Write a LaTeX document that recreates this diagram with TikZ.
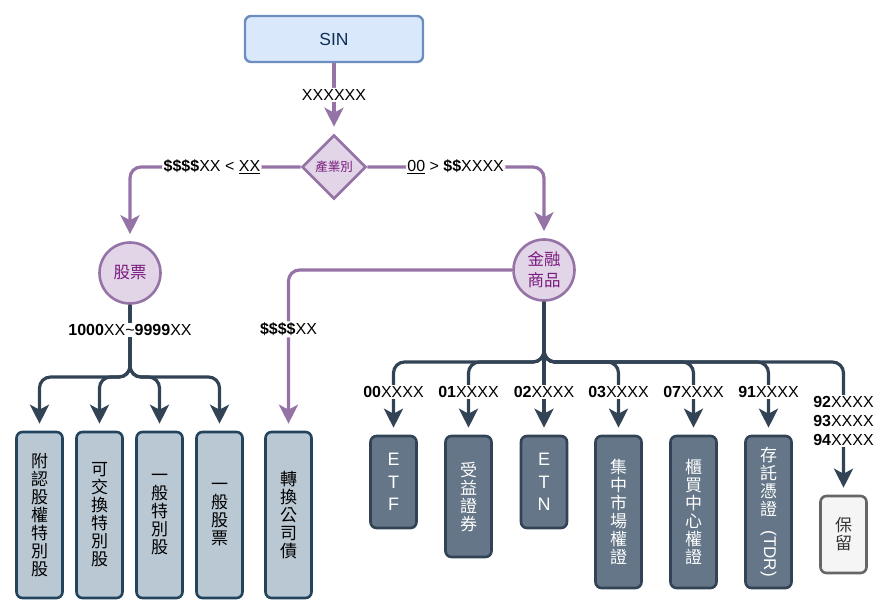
\documentclass[tikz,border=0pt]{standalone}
\usepackage{fontspec}
\setmainfont{Liberation Sans}
\newfontfamily\cjk{Noto Sans CJK TC}
\usetikzlibrary{shapes.geometric,arrows.meta}
\definecolor{sinfill}{HTML}{DAE8FC}
\definecolor{sindraw}{HTML}{6C8EBF}
\definecolor{sintext}{HTML}{0F2F57}
\definecolor{pfill}{HTML}{E1D5E7}
\definecolor{pdraw}{HTML}{9673A6}
\definecolor{ptext}{HTML}{7A1A7E}
\definecolor{afill}{HTML}{BAC8D3}
\definecolor{adraw}{HTML}{23445D}
\definecolor{bfill}{HTML}{647687}
\definecolor{bdraw}{HTML}{314354}
\definecolor{gfill}{HTML}{F5F5F5}
\definecolor{gdraw}{HTML}{666666}
\definecolor{gtext}{HTML}{333333}
\definecolor{tcol}{HTML}{314354}
\begin{document}
\begin{tikzpicture}[x=1pt,y=-1pt,
  sinbox/.style={draw=sindraw, fill=sinfill, line width=2.4pt, rounded corners=6pt, minimum width=178pt, minimum height=46pt, inner sep=0pt, text=sintext, font=\fontsize{17.5}{20}\selectfont},
  dia/.style={diamond, draw=pdraw, fill=pfill, line width=2.6pt, minimum width=64pt, minimum height=64pt, inner sep=0pt, text=ptext, font=\cjk\fontsize{12.5}{14}\selectfont},
  circ/.style={circle, draw=pdraw, fill=pfill, line width=2.6pt, minimum size=61pt, inner sep=0pt, align=center, text=ptext, font=\cjk\fontsize{16.5}{21}\selectfont},
  boxa/.style={draw=adraw, fill=afill, line width=2.6pt, rounded corners=6pt, minimum width=46pt, inner sep=0pt, align=center, text=black, font=\cjk\fontsize{17}{18}\selectfont},
  boxb/.style={draw=bdraw, fill=bfill, line width=2.6pt, rounded corners=6pt, minimum width=46pt, inner sep=0pt, align=center, text=white, font=\cjk\fontsize{17}{18}\selectfont},
  boxg/.style={draw=gdraw, fill=gfill, line width=2.6pt, rounded corners=6pt, minimum width=46pt, inner sep=0pt, align=center, text=gtext, font=\cjk\fontsize{17}{18}\selectfont},
  lbl/.style={fill=white, inner sep=1.5pt, align=center, text=black, font=\fontsize{16}{19}\selectfont},
  pline/.style={draw=pdraw, line width=3.2pt, rounded corners=11pt, shorten >=7pt, -{Stealth[length=19pt,width=19pt,inset=5pt]}},
  tline/.style={draw=tcol, line width=3.2pt, rounded corners=11pt, shorten >=7pt, -{Stealth[length=19pt,width=19pt,inset=5pt]}},
]
\useasboundingbox (0,0) rectangle (891,615);

% top
\node[sinbox] (sin) at (334,39) {SIN};
\node[dia] (ind) at (334,167) {產業別};
\node[circ] (stk) at (130,273) {股票};
\node[circ] (fin) at (544,270) {金融\\商品};

% left boxes
\node[boxa, minimum height=166pt] (a1) at (39.5,515) {附\\認\\股\\權\\特\\別\\股};
\node[boxa, minimum height=166pt] (a2) at (99.5,515) {可\\交\\換\\特\\別\\股};
\node[boxa, minimum height=166pt] (a3) at (159.5,515) {一\\般\\特\\別\\股};
\node[boxa, minimum height=166pt] (a4) at (219.5,515) {一\\般\\股\\票};
\node[boxa, minimum height=166pt] (a5) at (288.5,515) {轉\\換\\公\\司\\債};

% right boxes
\node[boxb, minimum height=92pt, font=\fontsize{18}{22.5}\selectfont] (b1) at (393.5,482) {E\\T\\F};
\node[boxb, minimum height=121pt] (b2) at (468.5,496.5) {受\\益\\證\\券};
\node[boxb, minimum height=92pt, font=\fontsize{18}{22.5}\selectfont] (b3) at (544,482) {E\\T\\N};
\node[boxb, minimum height=152pt] (b4) at (618.5,512) {集\\中\\市\\場\\權\\證};
\node[boxb, minimum height=152pt] (b5) at (693.5,512) {櫃\\買\\中\\心\\權\\證};
\node[boxb, minimum height=152pt] (b6) at (768.5,512) {存\\託\\憑\\證\\[-3pt]\rotatebox{-90}{\fontspec{Liberation Sans}\fontsize{17}{18}\selectfont(TDR)}};
\node[boxg, minimum height=77pt] (b7) at (843.5,534.5) {保\\留};

% purple connectors
\draw[pline] (sin.south) -- node[lbl, pos=0.45]{XXXXXX} (ind.north);
\draw[pline] (ind.west) -- node[lbl, pos=0.52]{\textbf{\$\$\$\$}XX < \underline{XX}} (130,167) -- (stk.north);
\draw[pline] (ind.east) -- node[lbl, pos=0.50]{\underline{00} > \textbf{\$\$}XXXX} (544,167) -- (fin.north);
\draw[pline] (fin.west) -- (288.5,270) -- node[lbl, pos=0.37]{\textbf{\$\$\$\$}XX} (a5.north);

% left tree
\draw[tline] (stk.south) -- (130,377) -- (39.5,377) -- (a1.north);
\draw[tline] (stk.south) -- (130,377) -- (99.5,377) -- (a2.north);
\draw[tline] (stk.south) -- (130,377) -- (159.5,377) -- (a3.north);
\draw[tline] (stk.south) -- (130,377) -- (219.5,377) -- (a4.north);
\node[lbl] (l1) at (130,330) {\textbf{1000}XX\textasciitilde\textbf{9999}XX};

% right tree
\draw[tline] (fin.south) -- (544,362) -- (393.5,362) -- (b1.north);
\draw[tline] (fin.south) -- (544,362) -- (468.5,362) -- (b2.north);
\draw[tline] (fin.south) -- (b3.north);
\draw[tline] (fin.south) -- (544,362) -- (618.5,362) -- (b4.north);
\draw[tline] (fin.south) -- (544,362) -- (693.5,362) -- (b5.north);
\draw[tline] (fin.south) -- (544,362) -- (768.5,362) -- (b6.north);
\draw[tline] (fin.south) -- (544,362) -- (843.5,362) -- (b7.north);
\node[lbl] (r1) at (393.5,392) {\textbf{00}XXXX};
\node[lbl] (r2) at (468.5,392) {\textbf{01}XXXX};
\node[lbl] (r3) at (544,392) {\textbf{02}XXXX};
\node[lbl] (r4) at (618.5,392) {\textbf{03}XXXX};
\node[lbl] (r5) at (693.5,392) {\textbf{07}XXXX};
\node[lbl] (r6) at (768.5,392) {\textbf{91}XXXX};
\node[lbl] (r7) at (843.5,421) {\textbf{92}XXXX\\\textbf{93}XXXX\\\textbf{94}XXXX};
\end{tikzpicture}
\end{document}
